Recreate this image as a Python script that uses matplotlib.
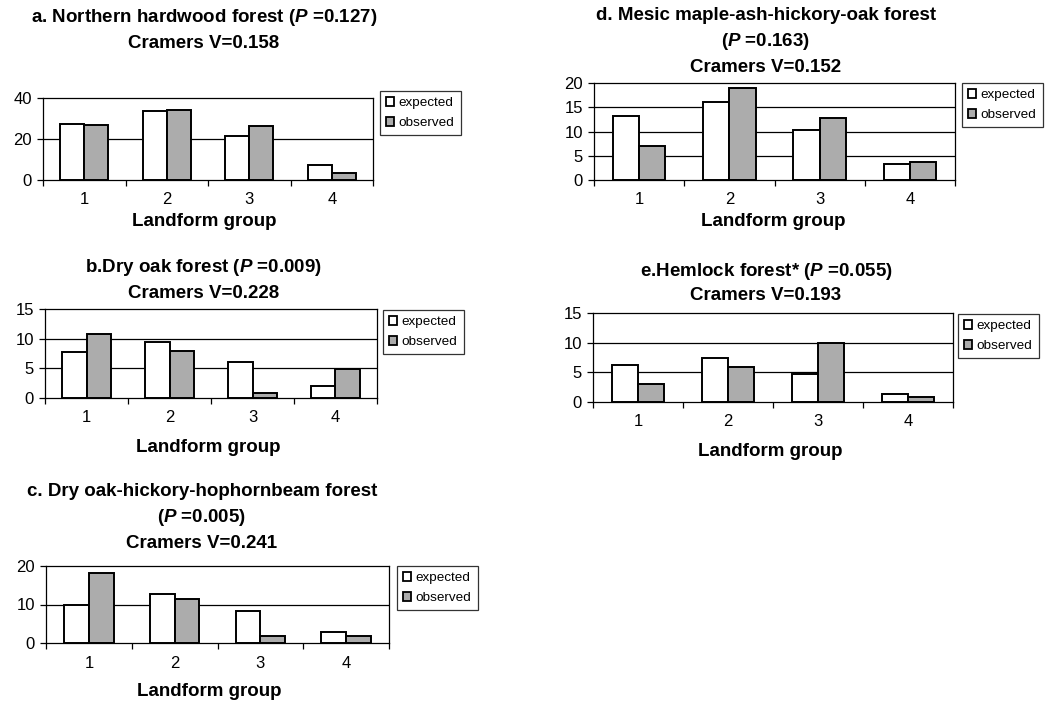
import matplotlib
matplotlib.use("Agg")
import matplotlib.pyplot as plt
from matplotlib.patches import Patch

plt.rcParams['font.family'] = ['Liberation Sans', 'DejaVu Sans']
plt.rcParams['mathtext.fontset'] = 'custom'
plt.rcParams['mathtext.it'] = 'Liberation Sans:bold:italic'
plt.rcParams['mathtext.rm'] = 'Liberation Sans:bold'

groups = [1, 2, 3, 4]
series_names = ["expected", "observed"]

titles = {
    "a": ["a. Northern hardwood forest ($\\mathit{P}$ =0.127)", "Cramers V=0.158"],
    "b": ["b.Dry oak forest ($\\mathit{P}$ =0.009)", "Cramers V=0.228"],
    "c": ["c. Dry oak-hickory-hophornbeam forest", "($\\mathit{P}$ =0.005)", "Cramers V=0.241"],
    "d": ["d. Mesic maple-ash-hickory-oak forest", "($\\mathit{P}$ =0.163)", "Cramers V=0.152"],
    "e": ["e.Hemlock forest* ($\\mathit{P}$ =0.055)", "Cramers V=0.193"],
}

expected_a = [27.4, 33.6, 21.5, 7.2]
observed_a = [26.6, 34.3, 26.4, 3.6]
expected_b = [7.7, 9.4, 6.0, 2.1]
observed_b = [10.8, 8.0, 0.8, 4.9]
expected_c = [10.0, 12.7, 8.2, 2.8]
observed_c = [18.1, 11.4, 1.9, 1.7]
expected_d = [13.2, 16.0, 10.3, 3.4]
observed_d = [7.1, 18.9, 12.7, 3.8]
expected_e = [6.2, 7.4, 4.7, 1.4]
observed_e = [3.0, 5.9, 9.9, 0.8]

yticks_a = [0, 20, 40]
yticks_b = [0, 5, 10, 15]
yticks_c = [0, 10, 20]
yticks_d = [0, 5, 10, 15, 20]
yticks_e = [0, 5, 10, 15]

xlabel = "Landform group"

W, H = 1048, 706
fig = plt.figure(figsize=(W / 100, H / 100), dpi=100)

OBS_COLOR = '#acacac'

panels = [
    dict(key="a", exp=expected_a, obs=observed_a, yt=yticks_a,
         box=(43, 373, 98, 180), tx=204, ty=[18, 44], xl=(204, 222), leg=(380, 91)),
    dict(key="b", exp=expected_b, obs=observed_b, yt=yticks_b,
         box=(45, 377, 309, 398), tx=204, ty=[268, 293], xl=(208, 448), leg=(383, 310)),
    dict(key="c", exp=expected_c, obs=observed_c, yt=yticks_c,
         box=(46, 389, 566, 643), tx=202, ty=[491, 518, 544], xl=(209, 692), leg=(397, 566)),
    dict(key="d", exp=expected_d, obs=observed_d, yt=yticks_d,
         box=(594, 955, 83, 180), tx=766, ty=[15, 42, 67], xl=(773, 221), leg=(962, 83)),
    dict(key="e", exp=expected_e, obs=observed_e, yt=yticks_e,
         box=(593, 953, 313, 402), tx=766, ty=[271, 295], xl=(770, 452), leg=(958, 314)),
]

bw = 0.29
for p in panels:
    l, r, t, b = p["box"]
    ax = fig.add_axes([l / W, 1 - b / H, (r - l) / W, (b - t) / H])
    xs = list(groups)
    ax.bar([x - bw / 2 for x in xs], p["exp"], width=bw, facecolor='white',
           edgecolor='black', linewidth=1.4, zorder=3)
    ax.bar([x + bw / 2 for x in xs], p["obs"], width=bw, facecolor=OBS_COLOR,
           edgecolor='black', linewidth=1.4, zorder=3)
    ax.set_xlim(0.5, 4.5)
    ax.set_ylim(p["yt"][0], p["yt"][-1])
    ax.set_yticks(p["yt"])
    ax.set_yticklabels([str(v) for v in p["yt"]], fontsize=12)
    for v in p["yt"][1:-1]:
        ax.axhline(v, color='black', linewidth=0.9, zorder=1)
    ax.set_xticks(xs)
    ax.set_xticklabels([str(x) for x in xs], fontsize=12)
    ax.set_xticks([0.5, 1.5, 2.5, 3.5, 4.5], minor=True)
    ax.tick_params(axis='x', which='major', length=0, pad=9)
    ax.tick_params(axis='x', which='minor', length=4, width=0.9, direction='out')
    ax.tick_params(axis='y', length=4, width=0.9, direction='out', pad=4)
    for s in ax.spines.values():
        s.set_linewidth(0.9)
        s.set_color('black')

    for line, y in zip(titles[p["key"]], p["ty"]):
        fig.text(p["tx"] / W, 1 - y / H, line, ha='center', va='center',
                 fontsize=13.5, fontweight='bold')
    fig.text(p["xl"][0] / W, 1 - p["xl"][1] / H, xlabel, ha='center', va='center',
             fontsize=13.5, fontweight='bold')

    handles = [Patch(facecolor='white', edgecolor='black', linewidth=1.3),
               Patch(facecolor=OBS_COLOR, edgecolor='black', linewidth=1.3)]
    leg = fig.legend(handles, series_names, loc='upper left',
                     bbox_to_anchor=(p["leg"][0] / W, 1 - p["leg"][1] / H),
                     bbox_transform=fig.transFigure, borderaxespad=0,
                     fontsize=9.7, frameon=True, fancybox=False, shadow=False,
                     handlelength=0.6, handleheight=0.6, handletextpad=0.35,
                     labelspacing=0.6, borderpad=0.45)
    leg.get_frame().set_edgecolor('black')
    leg.get_frame().set_linewidth(0.9)

fig.savefig("out.png", dpi=100, facecolor='white')
